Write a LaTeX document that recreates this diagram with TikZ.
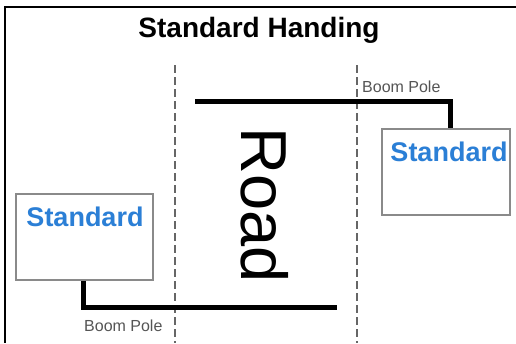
\documentclass[tikz,border=0pt]{standalone}
\usepackage{fontspec}
\setmainfont{Liberation Sans}
\definecolor{stdblue}{HTML}{2B7FD6}
\definecolor{boxgray}{HTML}{8A8A8A}
\definecolor{dashgray}{HTML}{666666}
\definecolor{polegray}{HTML}{555555}
\begin{document}
\begin{tikzpicture}[x=1pt,y=-1pt,
  frame/.style={line width=2.5pt,black},
  roadedge/.style={dashgray,line width=1.8pt,dash pattern=on 8pt off 4pt},
  boom/.style={line width=5pt,black},
  unitbox/.style={draw=boxgray,line width=1.5pt,fill=white,rectangle,inner sep=0pt},
  stdtext/.style={text=stdblue,font=\fontsize{27}{30}\selectfont\bfseries,inner sep=0pt},
  poletext/.style={text=polegray,font=\fontsize{16}{18}\selectfont,inner sep=0pt}]
\useasboundingbox (0,0) rectangle (516,343);
\fill[white] (0,0) rectangle (516,343);
% frame
\coordinate (ftl) at (5,7);
\coordinate (ftr) at (516,7);
\coordinate (fbl) at (5,343);
\draw[frame] (ftr) -- (ftl) -- (fbl);
% title
\node[font=\fontsize{28}{32}\selectfont\bfseries,inner sep=0pt] (title) at (259,30) {Standard Handing};
% road edges
\coordinate (d1t) at (175,65); \coordinate (d1b) at (175,343);
\coordinate (d2t) at (357,65); \coordinate (d2b) at (357,343);
\draw[roadedge] (d1t) -- (d1b);
\draw[roadedge] (d2t) -- (d2b);
% road label
\node[rotate=-90,font=\fontsize{65}{70}\selectfont,inner sep=0pt] (road) at (265,205) {Road};
% boxes
\node[unitbox,minimum width=137pt,minimum height=86pt] (lbox) at (84.5,237) {};
\node[unitbox,minimum width=128pt,minimum height=86pt] (rbox) at (446,172) {};
\node[stdtext] (lstd) at (85,217) {Standard};
\node[stdtext] (rstd) at (449,152) {Standard};
% booms
\coordinate (tbstart) at (195,101);
\coordinate (tbcorner) at (450,101);
\draw[boom] (tbstart) -- (tbcorner) -- (tbcorner |- rbox.north);
\coordinate (bbcorner) at (83,307);
\coordinate (bbend) at (337,307);
\draw[boom] (bbcorner |- lbox.south) -- (bbcorner) -- (bbend);
% boom pole labels
\node[poletext,anchor=base west] (tpole) at (362,92) {Boom Pole};
\node[poletext,anchor=base west] (bpole) at (84,331) {Boom Pole};
\end{tikzpicture}
\end{document}
